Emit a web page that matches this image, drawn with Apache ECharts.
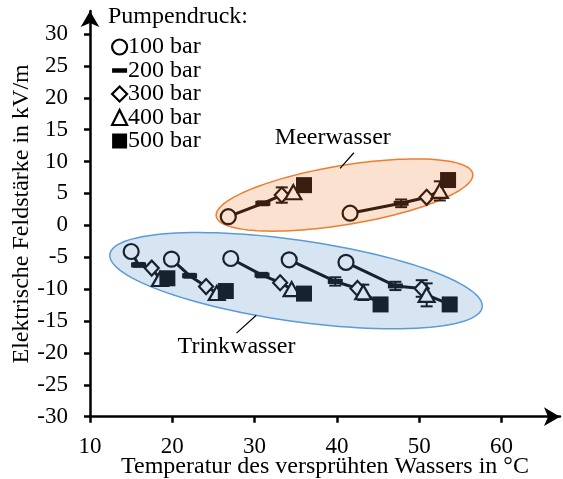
<!DOCTYPE html>
<html><head><meta charset="utf-8">
<script src="https://cdn.jsdelivr.net/npm/echarts@6/dist/echarts.min.js"></script>
<style>html,body{margin:0;padding:0;background:#fff}#c{width:563px;height:479px}</style>
</head><body><div id="c"></div>
<script>
// ---- data ----
const pressures = ['100 bar', '200 bar', '300 bar', '400 bar', '500 bar'];
const xTicks = [10, 20, 30, 40, 50, 60];
const yTicks = [-30, -25, -20, -15, -10, -5, 0, 5, 10, 15, 20, 25, 30];
// Trinkwasser: 5 groups, each [100,200,300,400,500 bar]
const trinkX = [
  [15.0, 15.9, 17.5, 18.5, 19.4],
  [19.9, 22.1, 24.1, 25.4, 26.5],
  [27.1, 30.9, 33.1, 34.5, 36.0],
  [34.2, 39.8, 42.5, 43.2, 45.3],
  [41.1, 47.1, 50.3, 50.9, 53.7]
];
const trinkY = [
  [-4.1, -6.2, -6.7, -8.4, -8.3],
  [-5.3, -7.9, -9.6, -10.6, -10.3],
  [-5.2, -7.8, -9.0, -10.0, -10.7],
  [-5.4, -8.8, -9.9, -10.5, -12.4],
  [-5.8, -9.5, -9.9, -10.9, -12.4]
];
const trinkErr = [
  [0.3, 0.3, 0, 0, 0],
  [0, 0.3, 0, 0, 0],
  [0, 0.35, 0, 0, 0],
  [0, 0.65, 0, 1.2, 0],
  [0, 0.65, 1.3, 1.8, 0]
];
// Meerwasser: 2 groups
const meerX = [
  [26.8, 31.0, 33.3, 34.7, 36.0],
  [41.6, 47.8, 50.9, 52.5, 53.5]
];
const meerY = [
  [1.35, 3.45, 4.75, 5.2, 6.3],
  [1.9, 3.45, 4.4, 5.4, 7.1]
];
const meerErr = [
  [0, 0.3, 1.2, 0, 0],
  [0, 0.6, 0, 1.5, 0]
];
const groupLabels = ['Meerwasser', 'Trinkwasser'];
const labelPos = [[39.5, 13.8], [27.8, -19.1]];
const leaderPos = [[42.06, 11.38, 40.38, 8.94], [27.8, -16.9, 30.2, -14.1]];
const ellipseCenters = [[35.03, -8.68], [40.92, 4.75]];

// ---- styles ----
const FONT = 'Liberation Serif';
const trinkColor = '#17222f', meerColor = '#3a1e0e';
const trinkFill = '#d7e5f3', meerFill = '#fbe1cf';
const ellipseStyle = [
  {rx: 188, ry: 40.6, angle: 8.1, fill: trinkFill, stroke: '#5b9bd5'},
  {rx: 130, ry: 29.6, angle: -9.4, fill: meerFill, stroke: '#ed7d31'}
];
const dashPath = 'path://M0,0h30v9h-30z';
const markerSpec = [
  {symbol: 'circle', size: 15, filled: false},
  {symbol: 'rect', size: [15, 5], filled: true},
  {symbol: 'diamond', size: [14, 15], filled: false},
  {symbol: 'triangle', size: [16, 14], filled: false},
  {symbol: 'rect', size: 16, filled: true}
];
const legendIcons = ['circle', dashPath, 'diamond', 'triangle', 'rect'];

// ---- build series ----
const series = [];
series.push({
  type: 'custom', z: 1, silent: true, clip: false,
  data: ellipseCenters.map((c, i) => [c[0], c[1], i]),
  renderItem: function (params, api) {
    const i = api.value(2);
    const st = ellipseStyle[i];
    const c = api.coord([api.value(0), api.value(1)]);
    const th = st.angle * Math.PI / 180;
    const pts = [];
    for (let k = 0; k < 120; k++) {
      const t = 2 * Math.PI * k / 120;
      const ex = st.rx * Math.cos(t), ey = st.ry * Math.sin(t);
      pts.push([c[0] + ex * Math.cos(th) - ey * Math.sin(th), c[1] + ex * Math.sin(th) + ey * Math.cos(th)]);
    }
    return {type: 'polygon', shape: {points: pts}, style: {fill: st.fill, stroke: st.stroke, lineWidth: 1.5}};
  }
});
trinkX.forEach((xs, g) => {
  series.push({type: 'line', z: 2, silent: true, symbol: 'none',
    lineStyle: {color: trinkColor, width: 3},
    data: xs.map((x, k) => [x, trinkY[g][k]])});
});
meerX.forEach((xs, g) => {
  series.push({type: 'line', z: 2, silent: true, symbol: 'none',
    lineStyle: {color: meerColor, width: 3},
    data: xs.map((x, k) => [x, meerY[g][k]])});
});
function errSeries(X, Y, E, color) {
  const d = [];
  X.forEach((xs, g) => xs.forEach((x, k) => { if (E[g][k] > 0) d.push([x, Y[g][k], E[g][k]]); }));
  return {
    type: 'custom', z: 3, silent: true, clip: false, data: d,
    renderItem: function (params, api) {
      const x = api.value(0), y = api.value(1), e = api.value(2);
      const p1 = api.coord([x, y + e]), p2 = api.coord([x, y - e]);
      const w = 6;
      const st = {stroke: color, lineWidth: 2};
      return {type: 'group', children: [
        {type: 'line', shape: {x1: p1[0], y1: p1[1], x2: p2[0], y2: p2[1]}, style: st},
        {type: 'line', shape: {x1: p1[0] - w, y1: p1[1], x2: p1[0] + w, y2: p1[1]}, style: st},
        {type: 'line', shape: {x1: p2[0] - w, y1: p2[1], x2: p2[0] + w, y2: p2[1]}, style: st}
      ]};
    }
  };
}
series.push(errSeries(trinkX, trinkY, trinkErr, trinkColor));
series.push(errSeries(meerX, meerY, meerErr, meerColor));
pressures.forEach((name, k) => {
  const m = markerSpec[k];
  const data = [];
  trinkX.forEach((xs, g) => data.push({value: [xs[k], trinkY[g][k]],
    itemStyle: {opacity: 1, color: m.filled ? trinkColor : trinkFill, borderColor: trinkColor, borderWidth: m.filled ? 0 : 2.2}}));
  meerX.forEach((xs, g) => data.push({value: [xs[k], meerY[g][k]],
    itemStyle: {opacity: 1, color: m.filled ? meerColor : meerFill, borderColor: meerColor, borderWidth: m.filled ? 0 : 2.2}}));
  series.push({name: name, type: 'scatter', z: 4 + k, symbol: m.symbol, symbolSize: m.size,
    itemStyle: {color: '#000', opacity: 1}, data: data});
});
series.push({
  type: 'custom', z: 5, silent: true, clip: false,
  data: leaderPos,
  renderItem: function (params, api) {
    const a = api.coord([api.value(0), api.value(1)]), b = api.coord([api.value(2), api.value(3)]);
    return {type: 'line', shape: {x1: a[0], y1: a[1], x2: b[0], y2: b[1]}, style: {stroke: '#000', lineWidth: 1.2}};
  }
});
series.push({
  type: 'custom', z: 5, silent: true, clip: false,
  data: labelPos.map((p, i) => [p[0], p[1], i]),
  renderItem: function (params, api) {
    const p = api.coord([api.value(0), api.value(1)]);
    return {type: 'text', x: p[0], y: p[1], style: {text: groupLabels[api.value(2)], fill: '#000',
      font: '24px "' + FONT + '"', align: 'center', verticalAlign: 'middle'}};
  }
});

const chart = echarts.init(document.getElementById('c'), null, {renderer: 'canvas'});
chart.setOption({
  animation: false,
  backgroundColor: '#fff',
  textStyle: {fontFamily: FONT},
  title: {text: 'Pumpendruck:', left: 108, top: 5, padding: 0,
    textStyle: {fontFamily: FONT, fontSize: 24, fontWeight: 'normal', color: '#000'}},
  legend: {
    orient: 'vertical', left: 111, top: 35, padding: 0, itemGap: -0.5,
    itemWidth: 15, itemHeight: 15, itemStyle: {borderWidth: 2.2}, symbolKeepAspect: true,
    textStyle: {fontFamily: FONT, fontSize: 24, color: '#000', lineHeight: 22, padding: [0, 0, 0, -4]},
    data: pressures.map((n, k) => ({name: n, icon: legendIcons[k],
      itemStyle: markerSpec[k].filled ? {color: '#000', borderWidth: 0} : {color: '#fff', borderColor: '#000', borderWidth: 2.2}}))
  },
  grid: {left: 90, right: 3, top: 11, bottom: 62.3, containLabel: false, outerBoundsMode: 'none'},
  xAxis: {
    type: 'value', min: 10, max: 67.1,
    name: 'Temperatur des versprühten Wassers in °C', nameLocation: 'middle', nameGap: 38, nameMoveOverlap: false,
    nameTextStyle: {fontFamily: FONT, fontSize: 24, color: '#000'},
    splitLine: {show: false},
    axisLine: {onZero: false, lineStyle: {color: '#000', width: 2.5}, symbol: ['none', 'arrow'], symbolSize: [14, 16]},
    axisTick: {customValues: xTicks, length: 6, lineStyle: {color: '#000', width: 2.5}},
    axisLabel: {customValues: xTicks, margin: 19, fontFamily: FONT, fontSize: 23, color: '#000'}
  },
  yAxis: {
    type: 'value', min: -30, max: 33.6,
    name: 'Elektrische Feldstärke in kV/m', nameLocation: 'middle', nameGap: 56, nameRotate: 90, nameMoveOverlap: false,
    nameTextStyle: {fontFamily: FONT, fontSize: 24, color: '#000'},
    splitLine: {show: false},
    axisLine: {onZero: false, lineStyle: {color: '#000', width: 2.5}, symbol: ['none', 'arrow'], symbolSize: [14, 16]},
    axisTick: {customValues: yTicks, length: 6, lineStyle: {color: '#000', width: 2.5}},
    axisLabel: {customValues: yTicks, margin: 22, fontFamily: FONT, fontSize: 23, color: '#000'}
  },
  series: series
});
</script>
</body></html>
